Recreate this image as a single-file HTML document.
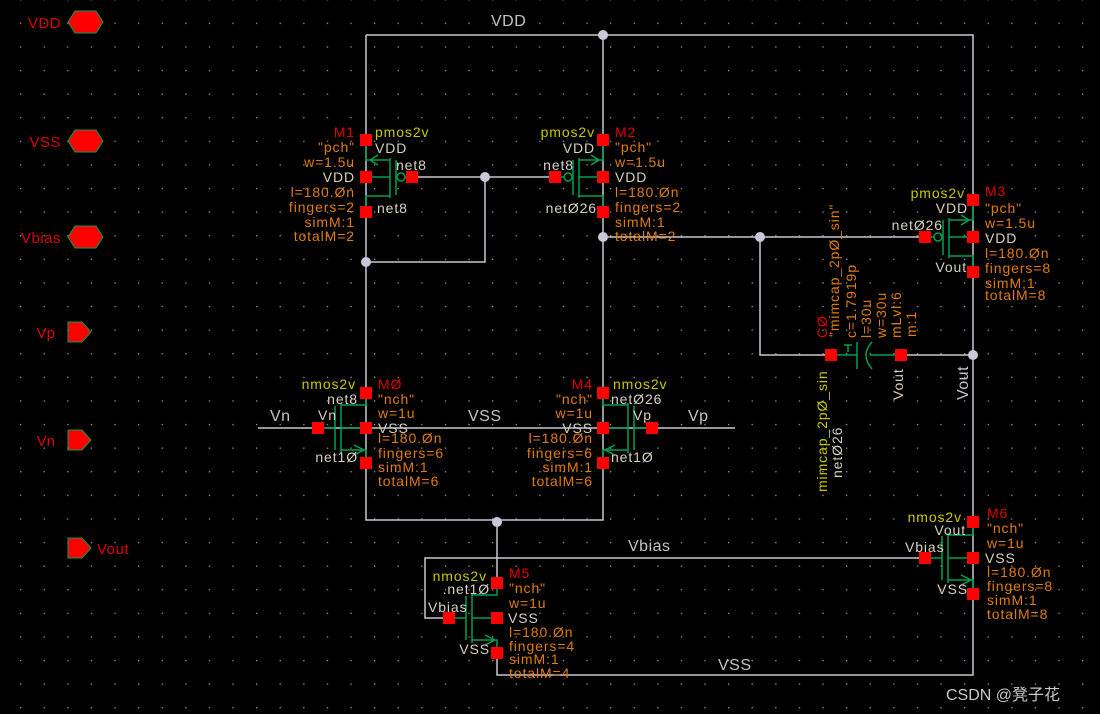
<!DOCTYPE html>
<html><head><meta charset="utf-8"><style>
html,body{margin:0;padding:0;background:#000;}
svg{display:block;}
text{font-family:"Liberation Sans","Noto Sans CJK SC",sans-serif;}
.p{fill:#e07b12;font-size:14px;letter-spacing:0.9px;}
.r{fill:#e00000;font-size:14px;letter-spacing:0.9px;}
.y{fill:#c8c800;font-size:14px;letter-spacing:0.9px;}
.b{fill:#d8d0c0;font-size:14px;letter-spacing:0.9px;}
.w{fill:#c4c4c4;font-size:16px;letter-spacing:0.5px;}
.e{text-anchor:end;}
.pin{fill:#f00;}
</style></head><body>
<svg width="1100" height="714" viewBox="0 0 1100 714" xmlns="http://www.w3.org/2000/svg">
<defs>
<pattern id="g" x="20" y="22.7" width="23.6" height="23.6" patternUnits="userSpaceOnUse">
<rect x="0" y="0" width="1.3" height="1.3" fill="#9a9a9a"/>
</pattern>
<g id="pm" fill="none" stroke="#00a050" stroke-width="1.5">
<path d="M0,-37V-17H24M24,19H0V35M0,0H24M24,-19V21M30,-17V18M39,0H46M12,-22L4,-17L12,-12"/>
<circle cx="35" cy="0" r="4"/>
</g>
<g id="nm" fill="none" stroke="#00a050" stroke-width="1.5">
<path d="M0,-35V-23H-25M0,0H-25M-25,22H0V35M-25,-25V25M-31,-22V22M-31,0H-48M-12,17L-2,22L-12,27"/>
</g>
</defs>
<rect width="1100" height="714" fill="#000"/>
<rect width="1100" height="714" fill="url(#g)"/>

<g stroke="#c8c8d0" stroke-width="1.5" fill="none">
<path d="M366,35H973V675H497V653"/>
<path d="M366,35V520H603V35"/>
<path d="M412,177H555M485,177V262H366"/>
<path d="M603,237H925M760,237V355H831M901,355H973"/>
<path d="M258,428H735"/>
<path d="M497,520V583"/>
<path d="M449,618H425V558H925"/>
</g>
<g fill="#c8c8d8">
<circle cx="603" cy="35" r="5"/><circle cx="485" cy="177" r="5"/><circle cx="366" cy="262" r="5"/>
<circle cx="603" cy="237" r="5"/><circle cx="760" cy="237" r="5"/><circle cx="973" cy="355" r="5"/>
<circle cx="497" cy="522" r="5"/>
</g>

<use href="#pm" transform="translate(366,177)"/>
<use href="#pm" transform="translate(603,177) scale(-1,1)"/>
<use href="#pm" transform="translate(973,237) scale(-1,1)"/>
<use href="#nm" transform="translate(366,428)"/>
<use href="#nm" transform="translate(603,428) scale(-1,1)"/>
<use href="#nm" transform="translate(497,618)"/>
<use href="#nm" transform="translate(973,558)"/>
<g fill="none" stroke="#00a050" stroke-width="1.5">
<path d="M831,355H857M857,342V369M844,345H852M848,345V352M901,355H870"/>
<path d="M872,342Q860,355 872,369"/>
</g>

<g class="pin">
<rect x="360" y="134" width="12" height="12"/><rect x="360" y="171" width="12" height="12"/><rect x="360" y="206" width="12" height="12"/><rect x="406" y="171" width="12" height="12"/>
<rect x="597" y="134" width="12" height="12"/><rect x="597" y="171" width="12" height="12"/><rect x="597" y="206" width="12" height="12"/><rect x="549" y="171" width="12" height="12"/>
<rect x="967" y="194" width="12" height="12"/><rect x="967" y="231" width="12" height="12"/><rect x="967" y="266" width="12" height="12"/><rect x="919" y="231" width="12" height="12"/>
<rect x="360" y="387" width="12" height="12"/><rect x="360" y="422" width="12" height="12"/><rect x="360" y="457" width="12" height="12"/><rect x="312" y="422" width="12" height="12"/>
<rect x="597" y="387" width="12" height="12"/><rect x="597" y="422" width="12" height="12"/><rect x="597" y="457" width="12" height="12"/><rect x="646" y="422" width="12" height="12"/>
<rect x="491" y="577" width="12" height="12"/><rect x="491" y="612" width="12" height="12"/><rect x="491" y="647" width="12" height="12"/><rect x="443" y="612" width="12" height="12"/>
<rect x="967" y="516" width="12" height="12"/><rect x="967" y="552" width="12" height="12"/><rect x="967" y="588" width="12" height="12"/><rect x="919" y="552" width="12" height="12"/>
<rect x="825" y="349" width="12" height="12"/><rect x="895" y="349" width="12" height="12"/>
</g>

<g fill="#f00" stroke="#00a050" stroke-width="1">
<polygon points="68,22 75,11 96,11 103,22 96,33 75,33"/>
<polygon points="68,141 75,130 96,130 103,141 96,152 75,152"/>
<polygon points="68,237 75,226 96,226 103,237 96,248 75,248"/>
<polygon points="68,322 82,322 91,332 82,342 68,342"/>
<polygon points="68,430 82,430 91,440 82,450 68,450"/>
<polygon points="68,538 82,538 91,548 82,558 68,558"/>
</g>
<g fill="#e00000">
<text x="61" y="28" class="e" style="font-size:15px;letter-spacing:0.5px">VDD</text>
<text x="61" y="147" class="e" style="font-size:15px;letter-spacing:0.5px">VSS</text>
<text x="61" y="243" class="e" style="font-size:15px;letter-spacing:0.5px">Vbias</text>
<text x="55" y="338" class="e" style="font-size:15px">Vp</text>
<text x="55" y="446" class="e" style="font-size:15px">Vn</text>
<text x="97" y="554" style="font-size:15px;letter-spacing:0.5px">Vout</text>
</g>

<text class="w" x="491" y="26">VDD</text>
<text class="w" x="270" y="421">Vn</text>
<text class="w" x="468" y="421">VSS</text>
<text class="w" x="688" y="421">Vp</text>
<text class="w" x="628" y="551">Vbias</text>
<text class="w" x="718" y="670">VSS</text>
<text class="w" transform="translate(968,400) rotate(-90)">Vout</text>

<text class="r e" x="355" y="137">M1</text>
<g class="p" text-anchor="end">
<text x="355" y="152">"pch"</text><text x="355" y="167">w=1.5u</text>
<text x="355" y="197">l=180.Øn</text><text x="355" y="212">fingers=2</text><text x="355" y="227">simM:1</text><text x="355" y="241">totalM=2</text>
</g>
<text class="b e" x="355" y="182">VDD</text>
<text class="y" x="375" y="137">pmos2v</text>
<text class="b" x="375" y="153">VDD</text>
<text class="b" x="396" y="170">net8</text>
<text class="b" x="377" y="213">net8</text>

<text class="y e" x="595" y="137">pmos2v</text>
<text class="r" x="615" y="137">M2</text>
<g class="p"><text x="615" y="152">"pch"</text><text x="615" y="167">w=1.5u</text>
<text x="615" y="197">l=180.Øn</text><text x="615" y="212">fingers=2</text><text x="615" y="227">simM:1</text><text x="615" y="241">totalM=2</text></g>
<text class="b" x="615" y="182">VDD</text>
<text class="b e" x="595" y="153">VDD</text>
<text class="b e" x="574" y="170">net8</text>
<text class="b e" x="597" y="213">netØ26</text>

<text class="y e" x="965" y="198">pmos2v</text>
<text class="r" x="985" y="196">M3</text>
<g class="p"><text x="985" y="213">"pch"</text><text x="985" y="228">w=1.5u</text>
<text x="985" y="258">l=180.Øn</text><text x="985" y="273">fingers=8</text><text x="985" y="288">simM;1</text><text x="985" y="300">totalM=8</text></g>
<text class="b" x="985" y="243">VDD</text>
<text class="b e" x="968" y="213">VDD</text>
<text class="b e" x="943" y="230">netØ26</text>
<text class="b e" x="967" y="272">Vout</text>

<text class="r" transform="translate(827,338) rotate(-90)">CØ</text>
<text class="p" transform="translate(839,337) rotate(-90)">"mimcap_2pØ_sin"</text>
<text class="p" transform="translate(856,338) rotate(-90)">c=1.7919p</text>
<text class="p" transform="translate(871,338) rotate(-90)">l=30u</text>
<text class="p" transform="translate(886,338) rotate(-90)">w=30u</text>
<text class="p" transform="translate(901,338) rotate(-90)">mLvl:6</text>
<text class="p" transform="translate(916,337) rotate(-90)">m:1</text>
<text class="y" transform="translate(827,492) rotate(-90)">mimcap_2pØ_sin</text>
<text class="b" transform="translate(842,478) rotate(-90)">netØ26</text>
<text class="b" transform="translate(903,400) rotate(-90)">Vout</text>

<text class="y e" x="356" y="389">nmos2v</text>
<text class="r" x="378" y="389">MØ</text>
<g class="p"><text x="378" y="404">"nch"</text><text x="378" y="418">w=1u</text>
<text x="378" y="443">l=180.Øn</text><text x="378" y="458">fingers=6</text><text x="378" y="472">simM:1</text><text x="378" y="486">totalM=6</text></g>
<text class="b" x="378" y="433">VSS</text>
<text class="b e" x="358" y="404">net8</text>
<text class="b" x="318" y="420">Vn</text>
<text class="b e" x="358" y="462">net1Ø</text>

<text class="r e" x="593" y="389">M4</text>
<text class="y" x="613" y="389">nmos2v</text>
<g class="p" text-anchor="end"><text x="593" y="404">"nch"</text><text x="593" y="418">w=1u</text>
<text x="593" y="443">l=180.Øn</text><text x="593" y="458">fingers=6</text><text x="593" y="472">simM:1</text><text x="593" y="486">totalM=6</text></g>
<text class="b e" x="593" y="433">VSS</text>
<text class="b" x="611" y="404">netØ26</text>
<text class="b" x="633" y="420">Vp</text>
<text class="b" x="611" y="462">net1Ø</text>

<text class="y e" x="487" y="581">nmos2v</text>
<text class="r" x="509" y="578">M5</text>
<g class="p"><text x="509" y="593">"nch"</text><text x="509" y="608">w=1u</text>
<text x="509" y="637">l=180.Øn</text><text x="509" y="651">fingers=4</text><text x="509" y="664">simM:1</text><text x="509" y="678">totalM=4</text></g>
<text class="b" x="508" y="623">VSS</text>
<text class="b e" x="490" y="594">.net1Ø</text>
<text class="b" x="428" y="612">Vbias</text>
<text class="b e" x="490" y="654">VSS</text>

<text class="y e" x="962" y="522">nmos2v</text>
<text class="r" x="987" y="518">M6</text>
<g class="p"><text x="987" y="533">"nch"</text><text x="987" y="548">w=1u</text>
<text x="987" y="577">l=180.Øn</text><text x="987" y="591">fingers=8</text><text x="987" y="605">simM:1</text><text x="987" y="619">totalM=8</text></g>
<text class="b" x="985" y="563">VSS</text>
<text class="b e" x="966" y="535">Vout</text>
<text class="b" x="905" y="552">Vbias</text>
<text class="b e" x="968" y="594">VSS</text>

<text x="946" y="700" fill="#c8c8c8" style="font-size:16px">CSDN @凳子花</text>
</svg>
</body></html>
